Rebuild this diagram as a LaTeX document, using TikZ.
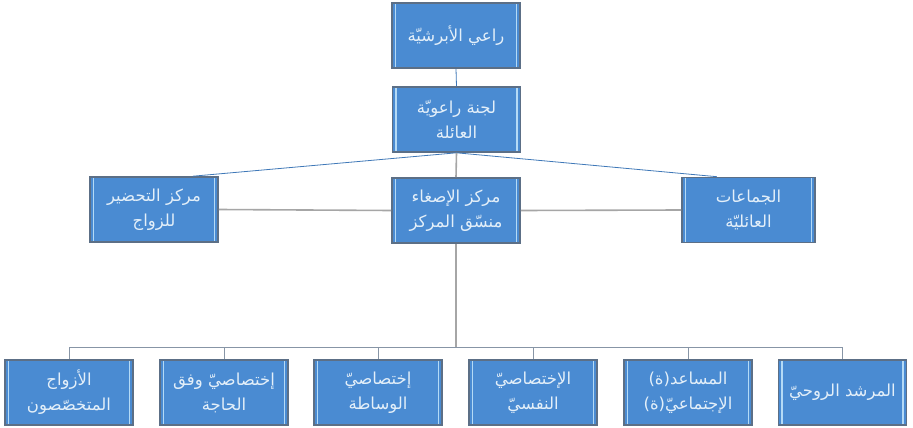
\documentclass[tikz,border=0pt]{standalone}
\usepackage{fontspec}
\newfontfamily\arabicfont[Script=Arabic]{DejaVu Sans}
\TeXXeTstate=1
\usetikzlibrary{calc}
\newcommand{\ar}[1]{{\arabicfont\beginR #1\endR}}
\definecolor{boxfill}{HTML}{4A8BD2}
\definecolor{boxedge}{HTML}{5C6F86}
\definecolor{stripe}{HTML}{B4DAF6}
\definecolor{boxtext}{HTML}{E3EFF9}
\definecolor{blueline}{HTML}{3F78B8}
\definecolor{greyline}{HTML}{A6A6A6}
\definecolor{treeline}{HTML}{8795A6}
\tikzset{
  orgbox/.style={draw=boxedge, line width=1.6pt, fill=boxfill, text=boxtext,
    minimum width=128pt, minimum height=65pt, inner sep=1pt, align=center,
    font=\arabicfont\fontsize{16.5}{25}\selectfont,
    path picture={
      \draw[stripe, line width=1.4pt]
        ([xshift=3.5pt]path picture bounding box.south west) -- ([xshift=3.5pt]path picture bounding box.north west)
        ([xshift=-3.5pt]path picture bounding box.south east) -- ([xshift=-3.5pt]path picture bounding box.north east);
    }},
  bluecon/.style={draw=blueline, line width=0.8pt},
  greycon/.style={draw=greyline, line width=1.6pt},
  treecon/.style={draw=treeline, line width=0.9pt}
}
\begin{document}
\begin{tikzpicture}[x=1pt,y=-1pt]
\path[fill=white] (0,0) rectangle (913,428);
\useasboundingbox (0,0) rectangle (913,428);

\node[orgbox] (top) at (456,35.5) {\ar{راعي الأبرشيّة}};
\node[orgbox] (l2) at (456.5,119.5) {\ar{لجنة راعويّة}\\\ar{العائلة}};

\node[orgbox] (mL) at (154,209.5) {\ar{مركز التحضير}\\\ar{للزواج}};
\node[orgbox] (mC) at (456,210.5) {\ar{مركز الإصغاء}\\\ar{منسّق المركز}};
\node[orgbox, minimum width=133pt] (mR) at (748.5,210) {\ar{الجماعات}\\\ar{العائليّة}};

\node[orgbox] (b1) at (69,392.5) {\ar{الأزواج}\\\ar{المتخصّصون}};
\node[orgbox] (b2) at (224,392.5) {\ar{إختصاصيّ وفق}\\\ar{الحاجة}};
\node[orgbox] (b3) at (378,392.5) {\ar{إختصاصيّ}\\\ar{الوساطة}};
\node[orgbox] (b4) at (533,392.5) {\ar{الإختصاصيّ}\\\ar{النفسيّ}};
\node[orgbox] (b5) at (688,392.5) {\ar{المساعد(ة)}\\\ar{الإجتماعيّ(ة)}};
\node[orgbox] (b6) at (842.5,392.5) {\ar{المرشد الروحيّ}};

\coordinate (bus) at (456,347);

\draw[bluecon] (top.south) -- (l2.north);
\draw[bluecon] (l2.south) -- ($(mL.north)!0.6!(mL.north east)$);
\draw[bluecon] (l2.south) -- ($(mR.north)!0.47!(mR.north west)$);
\draw[greycon] (l2.south) -- (mC.north);
\draw[greycon] (mL.east) -- (mC.west);
\draw[greycon] (mC.east) -- (mR.west);
\draw[greycon] (mC.south) -- (bus);
\foreach \b in {b1,b2,b3,b4,b5,b6} {
  \draw[treecon] (bus) -| (\b.north);
}
\end{tikzpicture}
\end{document}
